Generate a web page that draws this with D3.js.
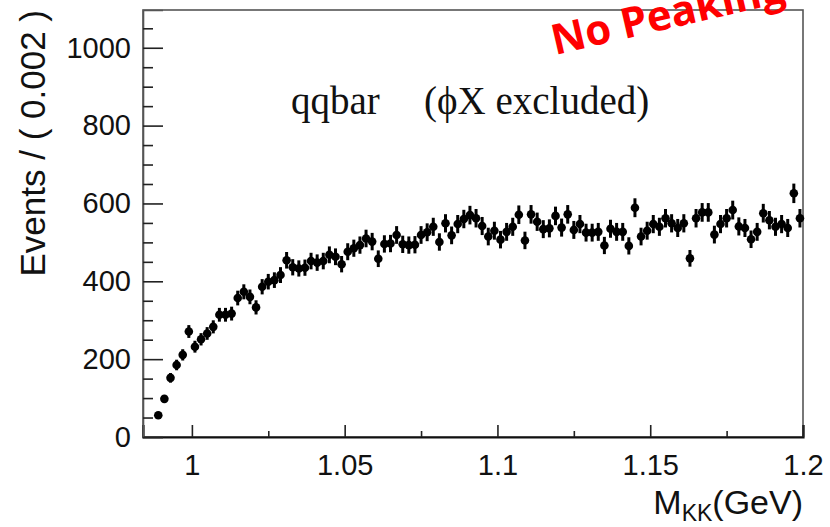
<!DOCTYPE html>
<html>
<head>
<meta charset="utf-8">
<script src="https://cdn.jsdelivr.net/npm/d3@7"></script>
<style>
  html, body { margin: 0; padding: 0; background: #fff; }
  svg { display: block; }
</style>
</head>
<body>
<svg id="chart" width="830" height="527"></svg>
<script>
// ---- data ----
const binWidth = 0.002;
const firstBinCenter = 0.989;
const events = [
  56, 98, 152, 185, 211, 271, 232, 251, 266, 283,
  314, 314, 317, 357, 373, 360, 333, 386, 399, 403,
  416, 454, 436, 433, 435, 452, 448, 452, 468, 463,
  444, 476, 485, 493, 510, 502, 458, 496, 497, 519,
  495, 493, 494, 519, 526, 540, 501, 549, 518, 547,
  560, 570, 562, 542, 515, 530, 507, 527, 540, 571,
  505, 572, 553, 534, 536, 568, 538, 572, 532, 547,
  525, 525, 527, 492, 535, 527, 527, 491, 589, 515,
  530, 547, 540, 562, 549, 537, 549, 459, 562, 577,
  577, 520, 547, 562, 583, 541, 537, 508, 527, 575,
  557, 540, 547, 537, 626, 562
];
const massKK = events.map((_, i) => +(firstBinCenter + i * binWidth).toFixed(3));
const xMajorTicks = [1, 1.05, 1.1, 1.15, 1.2];
const xMinorTicks = [1.025, 1.075, 1.125, 1.175];
const yMajorTicks = [0, 200, 400, 600, 800, 1000];
const yMinorTicks = [50, 100, 150, 250, 300, 350, 450, 500, 550, 650, 700, 750, 850, 900, 950, 1050];
const xDomain = [0.984, 1.2];
const yDomain = [0, 1097];

const points = massKK.map((m, i) => ({ m, n: events[i], err: Math.sqrt(events[i]) }));

// ---- layout ----
const svg = d3.select("#chart");
const L = 143, R = 803, T = 10, B = 437;
const x = d3.scaleLinear().domain(xDomain).range([L, R]);
const y = d3.scaleLinear().domain(yDomain).range([B, T]);
const sansFont = "'Liberation Sans', Arial, Helvetica, sans-serif";

svg.append("rect").attr("width", 830).attr("height", 527).attr("fill", "#fff");

// frame
svg.append("rect")
  .attr("x", L).attr("y", T).attr("width", R - L).attr("height", B - T)
  .attr("fill", "none").attr("stroke", "#555").attr("stroke-width", 1.6);

// x axis major
const xAxis = svg.append("g").attr("transform", `translate(0,${B})`)
  .call(d3.axisBottom(x).tickValues(xMajorTicks).tickSize(-12).tickPadding(17)
        .tickFormat(d3.format("~g")));
xAxis.select(".domain").attr("stroke", "#111").attr("stroke-width", 2.2);
xAxis.selectAll(".tick line").attr("stroke", "#222").attr("stroke-width", 1.6);
xAxis.selectAll(".tick text").attr("font-family", sansFont).attr("font-size", 29).attr("fill", "#111");
// x axis minor
const xMinor = svg.append("g").attr("transform", `translate(0,${B})`)
  .call(d3.axisBottom(x).tickValues(xMinorTicks).tickSize(-6).tickFormat(""));
xMinor.select(".domain").remove();
xMinor.selectAll(".tick line").attr("stroke", "#222").attr("stroke-width", 1.6);

// y axis major
const yAxis = svg.append("g").attr("transform", `translate(${L},0)`)
  .call(d3.axisLeft(y).tickValues(yMajorTicks).tickSize(-20).tickPadding(12)
        .tickFormat(d3.format("d")));
yAxis.select(".domain").attr("stroke", "#555").attr("stroke-width", 1.6);
yAxis.selectAll(".tick line").attr("stroke", "#222").attr("stroke-width", 1.6);
yAxis.selectAll(".tick text").attr("font-family", sansFont).attr("font-size", 29).attr("fill", "#111");
// y axis minor
const yMinor = svg.append("g").attr("transform", `translate(${L},0)`)
  .call(d3.axisLeft(y).tickValues(yMinorTicks).tickSize(-10).tickFormat(""));
yMinor.select(".domain").remove();
yMinor.selectAll(".tick line").attr("stroke", "#222").attr("stroke-width", 1.6);

// error bars
svg.append("g").selectAll("line").data(points).join("line")
  .attr("x1", d => x(d.m)).attr("x2", d => x(d.m))
  .attr("y1", d => y(d.n - d.err)).attr("y2", d => y(d.n + d.err))
  .attr("stroke", "#000").attr("stroke-width", 3);
// markers
svg.append("g").selectAll("circle").data(points).join("circle")
  .attr("cx", d => x(d.m)).attr("cy", d => y(d.n)).attr("r", 4.3)
  .attr("fill", "#000");

// y title
svg.append("text")
  .attr("transform", `translate(45,${T}) rotate(-90)`)
  .attr("text-anchor", "end")
  .attr("font-family", sansFont).attr("font-size", 35).attr("fill", "#111")
  .text("Events / ( 0.002 )");

// x title
const xt = svg.append("text")
  .attr("x", R).attr("y", 514).attr("text-anchor", "end")
  .attr("font-family", sansFont).attr("font-size", 34).attr("fill", "#111");
xt.append("tspan").text("M");
xt.append("tspan").attr("font-size", 23).attr("dy", 7).text("KK");
xt.append("tspan").attr("dy", -7).text("(GeV)");

// annotation
const serif = "'Liberation Serif', 'Times New Roman', Times, serif";
svg.append("text").attr("x", 291).attr("y", 114)
  .attr("font-family", serif).attr("font-size", 39).attr("fill", "#111")
  .text("qqbar");
svg.append("text").attr("x", 424).attr("y", 114)
  .attr("font-family", serif).attr("font-size", 39).attr("fill", "#111")
  .text("(\u03D5X excluded)");

// red stamp
svg.append("text")
  .attr("transform", "translate(555,55) rotate(-13)")
  .attr("font-family", "'Open Sans', Lato, sans-serif").attr("font-weight", 700)
  .attr("font-size", 42).attr("fill", "#f00")
  .text("No Peaking");
</script>
</body>
</html>
